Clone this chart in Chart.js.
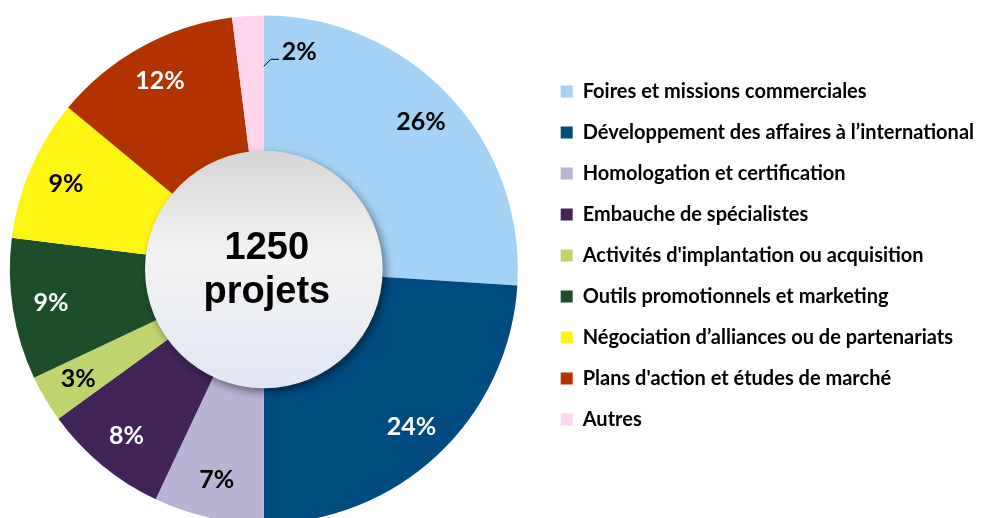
<!DOCTYPE html>
<html lang="fr">
<head>
<meta charset="UTF-8">
<title>Répartition des projets</title>
<script src="https://cdn.jsdelivr.net/npm/chart.js@4.4.1/dist/chart.umd.min.js"></script>
<style>
  html, body { margin: 0; padding: 0; background: #fff; overflow: hidden; width: 991px; height: 518px; }
  /* le graphique dépasse un peu en bas et à gauche, comme l'original qui est rogné */
  .wrap { position: relative; width: 1003px; height: 526px; margin-left: -12px; }
</style>
</head>
<body>
<div class="wrap"><canvas id="projets"></canvas></div>
<script>
// données
const categories = [
  'Foires et missions commerciales',
  'Développement des affaires à l\u2019international',
  'Homologation et certification',
  'Embauche de spécialistes',
  'Activités d\'implantation ou acquisition',
  'Outils promotionnels et marketing',
  'Négociation d\u2019alliances ou de partenariats',
  'Plans d\'action et études de marché',
  'Autres'
];
const shares = [26, 24, 7, 8, 3, 9, 9, 12, 2];
const totalProjets = 1250;

const sliceColors = ['#a3d2f4', '#004c80', '#b9b3d4', '#42245a', '#bfd46c', '#1d4e2a', '#fff514', '#b23300', '#ffd6ee'];
const labelColors = ['#000', '#fff', '#000', '#fff', '#000', '#fff', '#000', '#fff', '#000'];

// disque central avec ombre + total
const centreDisc = {
  id: 'centreDisc',
  afterDatasetsDraw(chart) {
    const arc = chart.getDatasetMeta(0).data[0];
    const { x, y, innerRadius } = arc.getProps(['x', 'y', 'innerRadius'], true);
    const ctx = chart.ctx;
    const r = innerRadius + 2;
    ctx.save();
    ctx.shadowColor = 'rgba(0,0,0,0.45)';
    ctx.shadowBlur = 8;
    ctx.shadowOffsetX = 3;
    ctx.shadowOffsetY = 4;
    const g = ctx.createLinearGradient(0, y - r, 0, y + r);
    g.addColorStop(0, '#d6d6d6');
    g.addColorStop(0.45, '#f3f3f3');
    g.addColorStop(1, '#e1e6f2');
    ctx.fillStyle = g;
    ctx.beginPath();
    ctx.arc(x, y, r, 0, Math.PI * 2);
    ctx.fill();
    ctx.restore();

    ctx.save();
    ctx.fillStyle = '#000';
    ctx.font = 'bold 38px "Liberation Sans", Arial, sans-serif';
    ctx.textAlign = 'center';
    ctx.textBaseline = 'alphabetic';
    ctx.fillText(String(totalProjets), x + 3, y - 11);
    ctx.fillText('projets', x + 3, y + 33);
    ctx.restore();
  }
};

// pourcentages sur les tranches
const sliceLabels = {
  id: 'sliceLabels',
  afterDatasetsDraw(chart) {
    const ctx = chart.ctx;
    const meta = chart.getDatasetMeta(0);
    ctx.save();
    ctx.font = 'bold 25px Lato, sans-serif';
    ctx.textBaseline = 'middle';
    meta.data.forEach((arc, i) => {
      const p = arc.getProps(['x', 'y', 'startAngle', 'endAngle', 'innerRadius', 'outerRadius'], true);
      const text = shares[i] + '%';
      ctx.fillStyle = labelColors[i];
      if (i === shares.length - 1) {
        // petite tranche : étiquette à l'extérieur avec trait de rappel
        const r0 = p.outerRadius * 0.8;
        const sx = p.x + Math.cos(p.endAngle) * r0;
        const sy = p.y + Math.sin(p.endAngle) * r0;
        ctx.strokeStyle = '#000';
        ctx.lineWidth = 1;
        ctx.beginPath();
        ctx.moveTo(sx, sy);
        ctx.lineTo(sx + 7, sy - 7);
        ctx.lineTo(sx + 15, sy - 7);
        ctx.stroke();
        ctx.textAlign = 'left';
        ctx.fillText(text, sx + 18, sy - 14);
        return;
      }
      const mid = (p.startAngle + p.endAngle) / 2;
      const r = p.innerRadius + 0.72 * (p.outerRadius - p.innerRadius);
      ctx.textAlign = 'center';
      ctx.fillText(text, p.x + Math.cos(mid) * r, p.y + Math.sin(mid) * r);
    });
    ctx.restore();
  }
};

// remonte un peu la légende
const legendShift = {
  id: 'legendShift',
  afterLayout(chart) {
    if (chart.legend) {
      chart.legend.top -= 14;
      chart.legend.bottom -= 14;
    }
  }
};

new Chart(document.getElementById('projets'), {
  type: 'doughnut',
  data: {
    labels: categories,
    datasets: [{
      data: shares,
      backgroundColor: sliceColors,
      borderWidth: 0,
      radius: 254
    }]
  },
  options: {
    responsive: true,
    maintainAspectRatio: false,
    animation: false,
    events: [],
    cutout: '46%',
    layout: { padding: { top: 13, bottom: 0, left: 0, right: 7 } },
    plugins: {
      tooltip: { enabled: false },
      legend: {
        position: 'right',
        labels: {
          boxWidth: 12,
          boxHeight: 12,
          padding: 21,
          color: '#000',
          font: { family: 'Lato', size: 20, weight: 'bold' }
        }
      }
    }
  },
  plugins: [centreDisc, sliceLabels, legendShift]
});
</script>
</body>
</html>
